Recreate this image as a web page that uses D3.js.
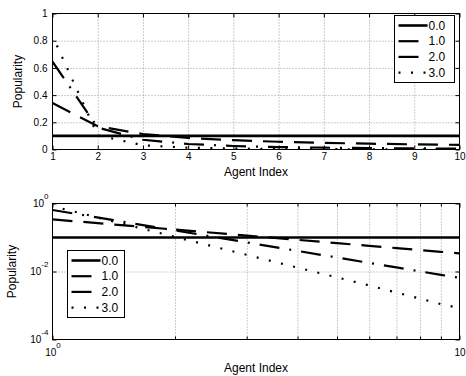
<!DOCTYPE html>
<html>
<head>
<meta charset="utf-8">
<script src="https://cdn.jsdelivr.net/npm/d3@7"></script>
<style>
  body { margin: 0; background: #fff; }
  svg { display: block; font-family: "Liberation Sans", Arial, Helvetica, sans-serif; font-size: 12px; }
  .grid line { stroke: #9a9a9a; stroke-dasharray: 1,2; }
  .grid .domain { display: none; }
</style>
</head>
<body>
<svg id="chart"></svg>
<script>
// data: popularity of each agent for the four exponents
var agentIndex = [1, 2, 3, 4, 5, 6, 7, 8, 9, 10];
var exponents = ["0.0", "1.0", "2.0", "3.0"];
var pop0 = [0.1, 0.1, 0.1, 0.1, 0.1, 0.1, 0.1, 0.1, 0.1, 0.1];
var pop1 = [0.3414, 0.1707, 0.1138, 0.0854, 0.0683, 0.0569, 0.0488, 0.0427, 0.0379, 0.0341];
var pop2 = [0.6453, 0.1613, 0.0717, 0.0403, 0.0258, 0.0179, 0.0132, 0.0101, 0.0080, 0.0065];
var pop3 = [0.8351, 0.1044, 0.0309, 0.0130, 0.0067, 0.0039, 0.0024, 0.0016, 0.0011, 0.00084];

var xTicksLin = [1, 2, 3, 4, 5, 6, 7, 8, 9, 10];
var yTicksLin = [0, 0.2, 0.4, 0.6, 0.8, 1];
var xTicksLog = [1, 10];
var yTicksLog = [1e-4, 1e-2, 1];

var series = [pop0, pop1, pop2, pop3];

// line styles, one per exponent
var dashes = ["none", "20,11", "20,10,2,10", "2,10.5"];
var dashOffsets = [0, 0, 0, 2];
var widths = [2.6, 2.2, 2.2, 2.2];

var width = 466, height = 376;
var left = 52.5, right = 459.5;

var svg = d3.select("#chart").attr("width", width).attr("height", height);

function drawPanel(p) {
    var g = svg.append("g");
    var x = p.log ? d3.scaleLog().domain([1, 10]) : d3.scaleLinear().domain([1, 10]);
    x.range([left, right]);
    var y = p.log ? d3.scaleLog().domain([1e-4, 1]) : d3.scaleLinear().domain([0, 1]);
    y.range([p.bottom, p.top]);
    var h = p.bottom - p.top;

    // grid
    g.append("g").attr("class", "grid")
      .attr("transform", `translate(0,${p.bottom})`)
      .call(d3.axisBottom(x).tickValues(p.xGrid).tickSize(-h).tickFormat(""));
    g.append("g").attr("class", "grid")
      .attr("transform", `translate(${left},0)`)
      .call(d3.axisLeft(y).tickValues(p.yGrid).tickSize(-(right - left)).tickFormat(""));

    // data lines
    var clipId = "clip" + p.id;
    g.append("clipPath").attr("id", clipId)
      .append("rect").attr("x", left).attr("y", p.top).attr("width", right - left).attr("height", h);

    var line = d3.line().x((d, i) => x(agentIndex[i])).y(d => y(d));
    g.append("g").attr("clip-path", `url(#${clipId})`)
      .selectAll("path")
      .data(series)
      .enter()
      .append("path")
        .attr("d", line)
        .attr("fill", "none")
        .attr("stroke", "#000")
        .attr("stroke-width", (d, i) => widths[i])
        .attr("stroke-dasharray", (d, i) => dashes[i])
        .attr("stroke-dashoffset", (d, i) => dashOffsets[i]);

    // inward ticks on all four sides
    var xb = g.append("g").attr("transform", `translate(0,${p.bottom})`)
      .call(d3.axisBottom(x).tickValues(p.xTicks).tickSize(-4).tickPadding(p.log ? 9 : 3).tickFormat(p.xFormat));
    var xt = g.append("g").attr("transform", `translate(0,${p.top})`)
      .call(d3.axisTop(x).tickValues(p.xTicks).tickSize(-4).tickFormat(""));
    var yl = g.append("g").attr("transform", `translate(${left},0)`)
      .call(d3.axisLeft(y).tickValues(p.yTicks).tickSize(-4).tickPadding(p.log ? 4 : 5).tickFormat(p.yFormat));
    var yr = g.append("g").attr("transform", `translate(${right},0)`)
      .call(d3.axisRight(y).tickValues(p.yTicks).tickSize(-4).tickFormat(""));

    if (p.log) {
        // minor x ticks at 2..9
        g.append("g").attr("transform", `translate(0,${p.bottom})`)
          .call(d3.axisBottom(x).tickValues(p.xGrid).tickSize(-3).tickFormat(""));
        g.append("g").attr("transform", `translate(0,${p.top})`)
          .call(d3.axisTop(x).tickValues(p.xGrid).tickSize(-3).tickFormat(""));
    }

    g.selectAll(".domain").filter(function() { return !this.parentNode.classList.contains("grid"); }).remove();
    g.selectAll(".tick text").attr("font-family", null).attr("font-size", null).attr("fill", "#000");
    g.selectAll(".tick line").filter(function() { return !this.parentNode.parentNode.classList.contains("grid"); })
      .attr("stroke", "#000");

    if (p.log) {
        // powers of ten with superscripts
        [xb, yl].forEach(function(ax) {
            ax.selectAll(".tick text").each(function(d) {
                var t = d3.select(this);
                var e = Math.round(Math.log10(d));
                t.append("tspan").text("10");
                if (e !== 1) {
                    t.append("tspan").attr("dy", "-8").attr("font-size", "8px").text(e);
                }
            });
        });
    }

    // frame
    g.append("rect")
      .attr("x", left).attr("y", p.top)
      .attr("width", right - left).attr("height", h)
      .attr("fill", "none").attr("stroke", "#000").attr("stroke-width", 1);

    // axis titles
    g.append("text")
      .attr("x", (left + right) / 2).attr("y", p.xTitleY)
      .attr("text-anchor", "middle")
      .text("Agent Index");
    g.append("text")
      .attr("transform", `translate(${p.yTitleX},${(p.top + p.bottom) / 2}) rotate(-90)`)
      .attr("text-anchor", "middle")
      .text("Popularity");

    // legend
    var lg = g.append("g").attr("transform", `translate(${p.legX},${p.legY})`);
    lg.append("rect")
      .attr("width", p.legW).attr("height", 67)
      .attr("fill", "#fff").attr("stroke", "#000").attr("stroke-width", 1);
    var rows = lg.selectAll("g.row")
      .data(exponents)
      .enter()
      .append("g")
        .attr("class", "row")
        .attr("transform", (d, i) => `translate(0,${10 + i * 15.7})`);
    rows.append("line")
      .attr("x1", 4).attr("x2", 33).attr("y1", 0).attr("y2", 0)
      .attr("stroke", "#000")
      .attr("stroke-width", (d, i) => widths[i])
      .attr("stroke-dasharray", (d, i) => dashes[i])
      .attr("stroke-dashoffset", 0);
    rows.append("text")
      .attr("x", 34).attr("dy", "0.35em")
      .text(d => d);
}

drawPanel({
    id: "top", log: false, top: 13.5, bottom: 149.5,
    xTicks: xTicksLin, yTicks: yTicksLin,
    xGrid: [2, 3, 4, 5, 6, 7, 8, 9], yGrid: [0.2, 0.4, 0.6, 0.8],
    xFormat: d => String(d), yFormat: d => String(d),
    xTitleY: 176, yTitleX: 21.5,
    legX: 394.5, legY: 15.5, legW: 60
});

drawPanel({
    id: "bottom", log: true, top: 203.5, bottom: 339.5,
    xTicks: xTicksLog, yTicks: yTicksLog,
    xGrid: [2, 3, 4, 5, 6, 7, 8, 9], yGrid: [1e-2],
    xFormat: () => "", yFormat: () => "",
    xTitleY: 372, yTitleX: 15.5,
    legX: 67.5, legY: 250.5, legW: 57
});
</script>
</body>
</html>
